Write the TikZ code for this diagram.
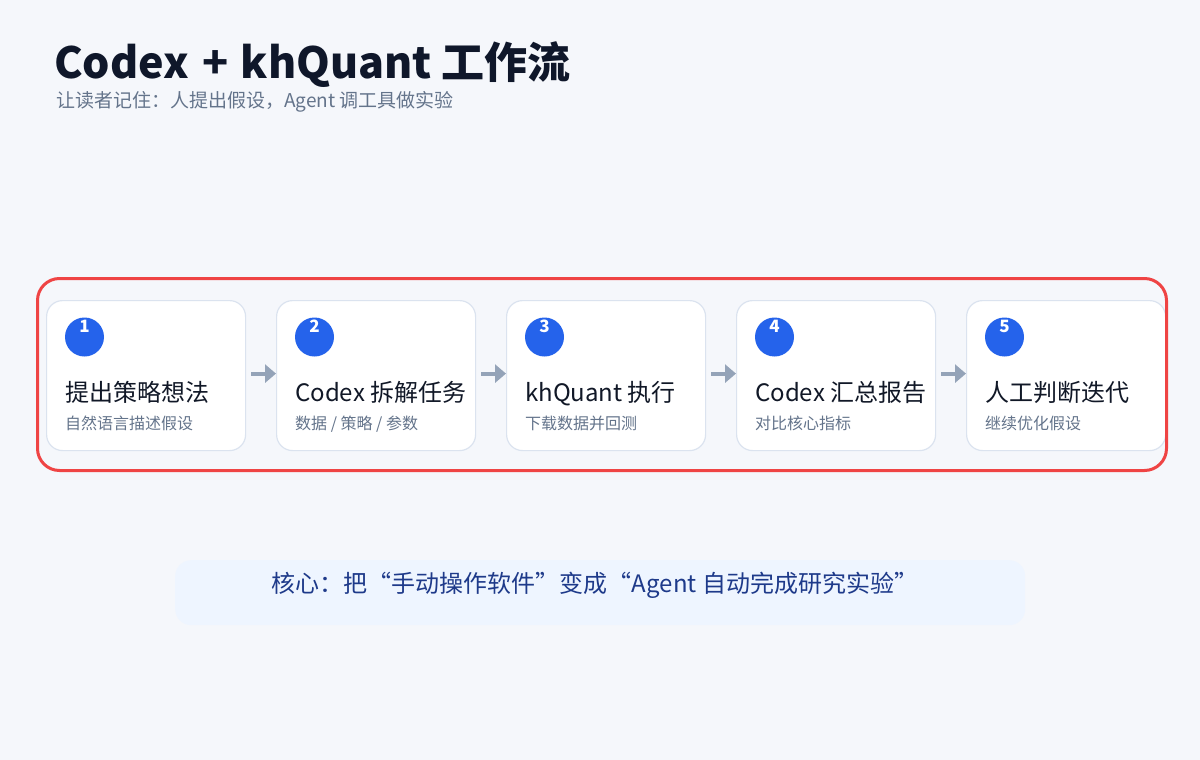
\documentclass[tikz,border=0pt]{standalone}
\usepackage{fontspec}
\usetikzlibrary{arrows.meta}
\setmainfont{Noto Sans CJK SC}
\definecolor{bgc}{HTML}{F5F7FB}
\definecolor{titlec}{HTML}{0F172A}
\definecolor{subc}{HTML}{64748B}
\definecolor{redc}{HTML}{EF4444}
\definecolor{cardline}{HTML}{DBE3EF}
\definecolor{bluec}{HTML}{2563EB}
\definecolor{arrowc}{HTML}{94A3B8}
\definecolor{notefill}{HTML}{EEF5FF}
\definecolor{notetext}{HTML}{1E3A8A}
\definecolor{steptext}{HTML}{111827}
\begin{document}
\begin{tikzpicture}[x=1pt,y=-1pt,
  card/.style={draw=cardline,line width=1.2pt,fill=white,rounded corners=16pt,minimum width=199pt,minimum height=150pt,inner sep=0pt},
  badge/.style={circle,fill=bluec,minimum size=39pt,inner sep=0pt},
  badgenum/.style={text=white,font=\fontsize{17}{17}\selectfont\bfseries,inner sep=0pt},
  steptitle/.style={anchor=base west,inner sep=0pt,text=steptext,font=\fontsize{24}{24}\selectfont},
  stepsub/.style={anchor=base west,inner sep=0pt,text=subc,font=\fontsize{16}{16}\selectfont},
  flowarrow/.style={draw=arrowc,line width=4pt,-{Triangle[length=11pt,width=18pt]}}
]
\useasboundingbox (0,0) rectangle (1200,760);
\fill[bgc] (0,0) rectangle (1200,760);

\node[anchor=base west,inner sep=0pt,text=titlec,font=\fontsize{43}{43}\selectfont\bfseries] (title) at (54,79) {Codex\hspace{4pt} + \hspace{2pt}khQuant 工作流};
\node[anchor=base west,inner sep=0pt,text=subc,font=\fontsize{19}{19}\selectfont] (subtitle) at (56,107) {让读者记住：人提出假设，Agent 调工具做实验};

\foreach \i/\t/\s in {1/提出策略想法/自然语言描述假设,2/Codex 拆解任务/{数据 / 策略 / 参数},3/khQuant 执行/下载数据并回测,4/Codex 汇总报告/对比核心指标,5/人工判断迭代/继续优化假设}{
  \pgfmathsetmacro{\xx}{46+230*(\i-1)}
  \node[card,anchor=north west] (card\i) at (\xx,300) {};
  \node[badge] (badge\i) at (\xx+38.5,337) {};
  \node[badgenum] (num\i) at (\xx+38.5,326) {\i};
  \node[steptitle] (st\i) at (\xx+19,401) {\t};
  \node[stepsub] (ss\i) at (\xx+19,429) {\s};
}
\foreach \a/\b in {1/2,2/3,3/4,4/5}{
  \draw[flowarrow] ([xshift=5pt,yshift=2pt]card\a.east) -- ([yshift=2pt]card\b.west);
}

\node[draw=redc,line width=3pt,rounded corners=22pt,minimum width=1129pt,minimum height=192pt,anchor=north west,inner sep=0pt] (frame) at (36,277) {};

\node[fill=notefill,rounded corners=16pt,minimum width=850pt,minimum height=65pt,anchor=north west,inner sep=0pt] (note) at (175,560) {};
\node[anchor=base,inner sep=0pt,text=notetext,font=\fontsize{24}{24}\selectfont] (notetxt) at (595,592) {核心：把“手动操作软件”变成“Agent 自动完成研究实验”};
\end{tikzpicture}
\end{document}
